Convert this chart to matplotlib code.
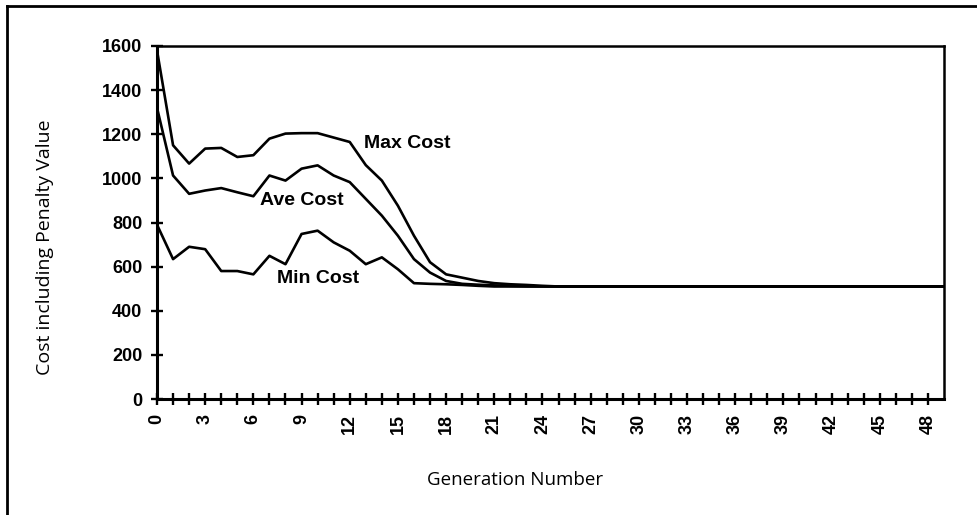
import matplotlib
matplotlib.use("Agg")
import matplotlib.pyplot as plt
from matplotlib.lines import Line2D

# Generation numbers and costs
generations = list(range(0, 50))

max_cost = [1580, 1150, 1067, 1135, 1138, 1097, 1105, 1180, 1203, 1205,
            1205, 1185, 1165, 1060, 990, 876, 740, 620, 565, 550,
            535, 525, 520, 517, 513, 510, 510, 510, 510, 510,
            510, 510, 510, 510, 510, 510, 510, 510, 510, 510,
            510, 510, 510, 510, 510, 510, 510, 510, 510, 510]

ave_cost = [1320, 1013, 930, 945, 956, 937, 919, 1013, 990, 1044,
            1059, 1013, 983, 907, 831, 740, 634, 573, 535, 522,
            518, 515, 513, 511, 510, 510, 510, 510, 510, 510,
            510, 510, 510, 510, 510, 510, 510, 510, 510, 510,
            510, 510, 510, 510, 510, 510, 510, 510, 510, 510]

min_cost = [790, 634, 690, 679, 580, 580, 565, 649, 611, 748,
            763, 710, 672, 611, 642, 588, 525, 522, 520, 517,
            513, 510, 510, 510, 510, 510, 510, 510, 510, 510,
            510, 510, 510, 510, 510, 510, 510, 510, 510, 510,
            510, 510, 510, 510, 510, 510, 510, 510, 510, 510]

y_ticks = [0, 200, 400, 600, 800, 1000, 1200, 1400, 1600]
x_ticks = list(range(0, 49))
x_label_step = 3

fig = plt.figure(figsize=(9.77, 5.15), dpi=100)
ax = fig.add_axes([157 / 977, 1 - 399 / 515, (944 - 157) / 977, (399 - 46) / 515])

for series in (max_cost, ave_cost, min_cost):
    ax.plot(generations, series, color="black", lw=1.9, solid_joinstyle="round")

ax.set_xlim(0, 49)
ax.set_ylim(0, 1600)

ax.set_xticks(x_ticks)
ax.set_xticklabels([str(g) if g % x_label_step == 0 else "" for g in x_ticks],
                   rotation=90, fontsize=13, fontweight="bold", family="Liberation Sans")
ax.set_yticks(y_ticks)
ax.set_yticklabels([str(v) for v in y_ticks], fontsize=13, fontweight="bold",
                   family="Liberation Sans")
ax.tick_params(axis="x", direction="inout", length=9, width=1.7, pad=6)
ax.tick_params(axis="y", direction="inout", length=9, width=1.7, pad=6)

for side in ("left", "bottom"):
    ax.spines[side].set_linewidth(2.2)
for side in ("top", "right"):
    ax.spines[side].set_linewidth(1.8)

# curve labels
label_font = dict(fontsize=14, fontweight="bold", family="Liberation Sans",
                  ha="center", va="center")
ax.text(15.6, 1158, "Max Cost", **label_font)
ax.text(9.0, 898, "Ave Cost", **label_font)
ax.text(10.0, 547, "Min Cost", **label_font)

fig.text(45 / 977, 1 - 247 / 515, "Cost including Penalty Value", rotation=90,
         ha="center", va="center", fontsize=14, family="Open Sans")
fig.text(515 / 977, 1 - 480 / 515, "Generation Number", ha="center", va="center",
         fontsize=13.5, family="Open Sans")

# outer border of the scanned figure (only top and left edges visible)
fig.add_artist(Line2D([7 / 977, 7 / 977], [0, 1 - 6 / 515], transform=fig.transFigure,
                      color="black", lw=2))
fig.add_artist(Line2D([7 / 977, 1], [1 - 6 / 515, 1 - 6 / 515], transform=fig.transFigure,
                      color="black", lw=2))

fig.savefig("out.png", dpi=100)
